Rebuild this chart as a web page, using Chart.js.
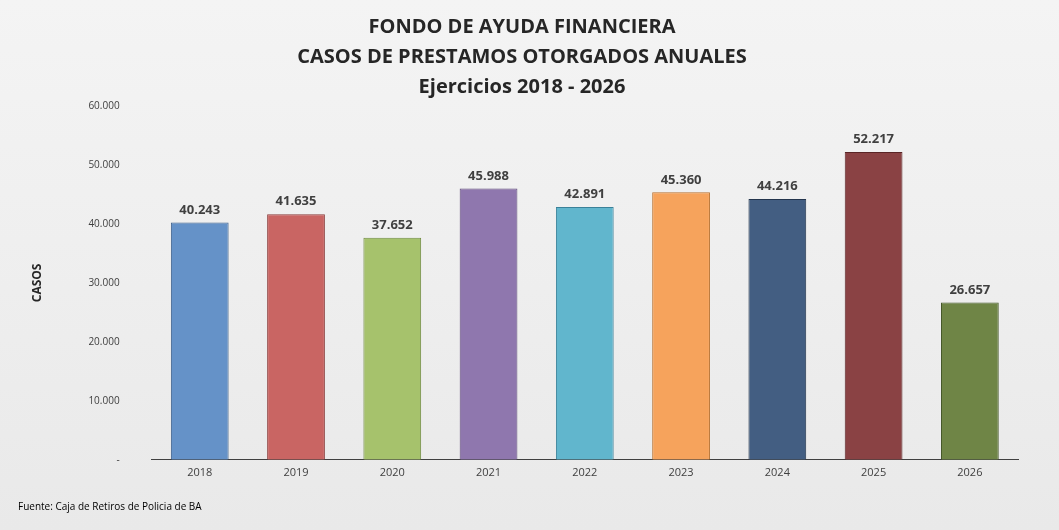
<!DOCTYPE html>
<html>
<head>
<meta charset="utf-8">
<script src="https://cdn.jsdelivr.net/npm/chart.js@4"></script>
<style>
  html, body { margin: 0; padding: 0; }
  body { width: 1059px; height: 530px; background: linear-gradient(#f4f4f4, #e9e9e9); }
  #wrap { position: relative; width: 1059px; height: 530px; }
</style>
</head>
<body>
<div id="wrap"><canvas id="myChart"></canvas></div>
<script>
// Datos del gráfico
const years = ['2018', '2019', '2020', '2021', '2022', '2023', '2024', '2025', '2026'];
const casos = [40243, 41635, 37652, 45988, 42891, 45360, 44216, 52217, 26657];
const barColors = ['#6592c8', '#c96563', '#a6c26c', '#8f77ae', '#61b6cd', '#f6a35c', '#435e82', '#8a4244', '#6f8546'];
const borderColors = ['#3d5f8a', '#8a3b3a', '#6f8a40', '#5e4a7a', '#3a8199', '#b86f2c', '#24354d', '#5a2526', '#46582a'];

// Formato con punto como separador de miles
const fmt = v => v === 0 ? '-' : v.toLocaleString('de-DE');

// Plugin para etiquetas sobre las barras
const valueLabels = {
    id: 'valueLabels',
    afterDatasetsDraw(chart) {
        const ctx = chart.ctx;
        const meta = chart.getDatasetMeta(0);
        ctx.save();
        ctx.font = 'bold 13px "Open Sans", sans-serif';
        ctx.fillStyle = '#404040';
        ctx.textAlign = 'center';
        ctx.textBaseline = 'bottom';
        meta.data.forEach((bar, i) => {
            ctx.fillText(fmt(casos[i]), bar.x, bar.y - 6);
        });
        ctx.restore();
    }
};

// Plugin para la fuente al pie
const footer = {
    id: 'footer',
    afterDraw(chart) {
        const ctx = chart.ctx;
        ctx.save();
        ctx.font = '10px "Open Sans", sans-serif';
        ctx.fillStyle = '#000';
        ctx.textBaseline = 'middle';
        ctx.fillText('Fuente: Caja de Retiros de Policia de BA', 18, 507);
        ctx.restore();
    }
};

new Chart(document.getElementById('myChart').getContext('2d'), {
    type: 'bar',
    data: {
        labels: years,
        datasets: [{
            data: casos,
            backgroundColor: barColors,
            borderColor: borderColors,
            borderWidth: 1,
            barPercentage: 0.6,
            categoryPercentage: 1.0
        }]
    },
    options: {
        responsive: true,
        maintainAspectRatio: false,
        animation: false,
        layout: { padding: { left: 26, right: 41, top: 12, bottom: 45 } },
        plugins: {
            legend: { display: false },
            tooltip: { enabled: false },
            title: {
                display: true,
                text: ['FONDO DE AYUDA FINANCIERA', 'CASOS DE PRESTAMOS OTORGADOS ANUALES', 'Ejercicios 2018 - 2026'],
                color: '#262626',
                font: { family: '"Open Sans", sans-serif', size: 20, weight: 'bold', lineHeight: 1.5 },
                padding: { top: 0, bottom: 4 }
            }
        },
        scales: {
            x: {
                grid: { display: false, drawTicks: false },
                border: { color: '#404040' },
                ticks: { color: '#404040', font: { family: '"Open Sans", sans-serif', size: 11 }, padding: 6 }
            },
            y: {
                min: 0,
                max: 60000,
                grid: { display: false },
                border: { display: false },
                ticks: {
                    stepSize: 10000,
                    color: '#404040',
                    font: { family: '"Open Sans", sans-serif', size: 10 },
                    padding: 24,
                    callback: v => fmt(v)
                },
                title: {
                    display: true,
                    text: 'CASOS',
                    color: '#262626',
                    font: { family: '"Open Sans", sans-serif', size: 12, weight: 'bold' },
                    padding: { bottom: 20 }
                }
            }
        }
    },
    plugins: [valueLabels, footer]
});
</script>
</body>
</html>
